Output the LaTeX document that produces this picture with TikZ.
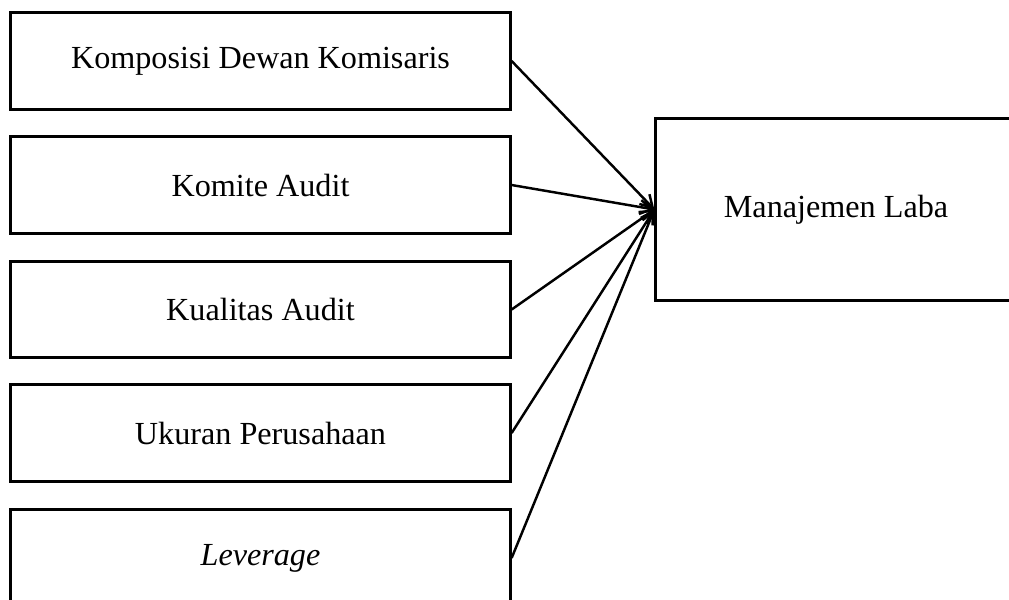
\documentclass[tikz,border=0pt]{standalone}
\usepackage{fontspec}
\setmainfont{Liberation Serif}
\usetikzlibrary{arrows.meta}
\begin{document}
\begin{tikzpicture}[x=0.01cm,y=-0.01cm,
  box/.style={draw,line width=0.85pt,minimum width=4.99cm,minimum height=0.96cm,inner sep=0pt,font=\fontsize{9.15pt}{11pt}\selectfont},
  arr/.style={line width=0.7pt,-{Straight Barb[length=1.2mm,width=1.4mm]}}]
\useasboundingbox (0,0) rectangle (1009,599);
\clip (0,0) rectangle (1009,599);
\node[box] (b1) at (260.5,61) {Komposisi Dewan Komisaris};
\node[box] (b2) at (260.5,185) {Komite Audit};
\node[box] (b3) at (260.5,309.5) {Kualitas Audit};
\node[box] (b4) at (260.5,433) {Ukuran Perusahaan};
\node[box] (b5) at (260.5,558) {\itshape Leverage};
\node[box,minimum width=3.6cm,minimum height=1.81cm] (m) at (836,209.5) {Manajemen Laba};
\foreach \b in {b1,b2,b3,b4,b5}
  \draw[arr] (\b.east) -- (m.west);
\end{tikzpicture}
\end{document}
